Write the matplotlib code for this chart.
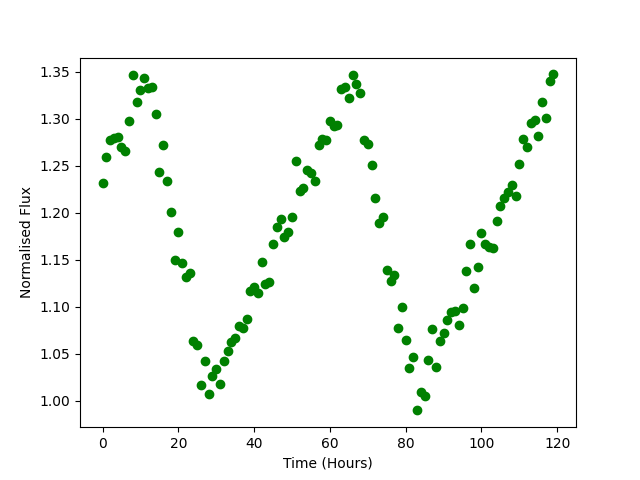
import numpy as np
import matplotlib
matplotlib.use("Agg")
import matplotlib.pyplot as plt

# time in hours, one reading per hour
hours = np.arange(0, 120)

# normalised flux
flux = [
    1.232, 1.259, 1.277, 1.279, 1.280, 1.270, 1.266, 1.298, 1.346, 1.318,
    1.330, 1.343, 1.333, 1.334, 1.305, 1.243, 1.272, 1.234, 1.201, 1.150,
    1.180, 1.147, 1.132, 1.136, 1.064, 1.060, 1.017, 1.043, 1.007, 1.027,
    1.034, 1.018, 1.042, 1.053, 1.063, 1.067, 1.080, 1.078, 1.087, 1.117,
    1.121, 1.115, 1.148, 1.124, 1.126, 1.167, 1.185, 1.193, 1.174, 1.180,
    1.195, 1.255, 1.223, 1.226, 1.245, 1.242, 1.234, 1.272, 1.278, 1.277,
    1.297, 1.292, 1.293, 1.332, 1.334, 1.322, 1.346, 1.337, 1.327, 1.277,
    1.273, 1.251, 1.216, 1.189, 1.195, 1.139, 1.128, 1.134, 1.078, 1.100,
    1.065, 1.035, 1.047, 0.990, 1.010, 1.005, 1.044, 1.076, 1.036, 1.064,
    1.072, 1.086, 1.095, 1.096, 1.081, 1.099, 1.138, 1.167, 1.120, 1.142,
    1.179, 1.167, 1.164, 1.163, 1.191, 1.207, 1.216, 1.222, 1.229, 1.218,
    1.252, 1.278, 1.270, 1.295, 1.299, 1.282, 1.318, 1.301, 1.340, 1.347,
]

fig = plt.figure(figsize=(6.4, 4.8), dpi=100)
plt.plot(hours, flux, 'go')
plt.xlabel("Time (Hours)")
plt.ylabel("Normalised Flux")
plt.savefig("out.png")
